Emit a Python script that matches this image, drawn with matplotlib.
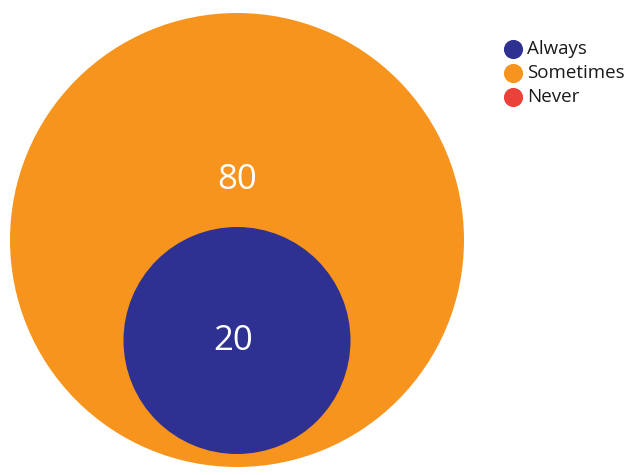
import numpy as np
import matplotlib.pyplot as plt
from matplotlib.patches import Circle

# survey answers, drawn as nested circles (area ~ value)
categories = ["Always", "Sometimes", "Never"]
values = [20, 80, 0]
colors = ["#2E3092", "#F7941D", "#EB4138"]

plt.rcParams['font.family'] = ['Open Sans', 'DejaVu Sans']

fig = plt.figure(figsize=(6.29, 4.75), dpi=100)
ax = fig.add_axes([0, 0, 1, 1])
ax.set_xlim(0, 629)
ax.set_ylim(475, 0)
ax.set_aspect('equal')
ax.axis('off')

# radius scale: sqrt of value
k = 227 / np.sqrt(max(values))
radii = [k * np.sqrt(v) for v in values]

# outer circle (Sometimes), inner circle (Always) sits near the bottom
cx, cy = 237, 240
R = radii[1]
r = radii[0]
inner_cy = cy + (R - r) - 13

ax.add_patch(Circle((cx, cy), R, color=colors[1], lw=0))
ax.text(cx, 180, str(values[1]), color="white", fontsize=25,
        ha="center", va="center")

ax.add_patch(Circle((cx, inner_cy), r, color=colors[0], lw=0))
ax.text(cx - 4, inner_cy + 1, str(values[0]), color="white", fontsize=25,
        ha="center", va="center")

# legend
for i, (name, col) in enumerate(zip(categories, colors)):
    y = 49 + 24 * i
    ax.scatter([513], [y], s=190, color=col, lw=0)
    ax.text(527, y, name, fontsize=13.5, color="#1a1a1a", ha="left", va="center")

fig.savefig("out.png", dpi=100)
